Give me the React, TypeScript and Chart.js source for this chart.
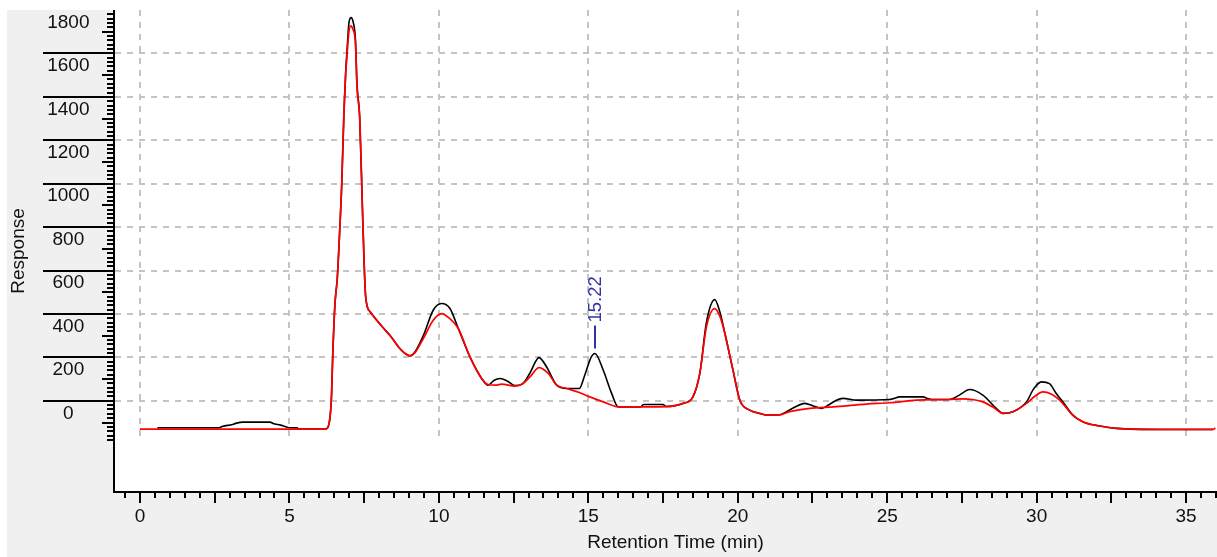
import React, { useEffect, useRef } from "react";
import { Chart, registerables } from "chart.js";

Chart.register(...registerables);

// Reference trace (red)
const REF_TIME = [
  0, 6.2, 6.3, 6.38, 6.41, 6.45, 6.52, 6.6, 6.65, 6.75, 6.82, 6.88, 6.93, 6.99, 7.05, 7.12, 7.21, 7.26, 7.35, 7.45,
  7.55, 7.7, 7.9, 8.15, 8.4, 8.65, 8.85, 9.03, 9.2, 9.48, 9.81, 10.09, 10.35, 10.65, 11.04, 11.43, 11.65, 11.9, 12.1, 12.54,
  12.8, 13.05, 13.35, 13.66, 13.94, 14.27, 14.7, 15.05, 15.5, 16.0, 17.39, 18.17, 18.5, 18.73, 18.95, 19.23, 19.4, 19.57, 19.84, 20.07,
  20.4, 20.74, 20.96, 21.35, 21.74, 22.41, 23.19, 24.3, 25.08, 25.98, 27.09, 27.54, 27.9, 28.2, 28.55, 28.87, 29.21, 29.66, 29.95, 30.21,
  30.5, 30.77, 31.21, 31.55, 32.11, 32.67, 34.22, 35.9, 35.98,
];
const REF_RESPONSE = [
  -130, -130, -118, -43, 31, 213, 440, 563, 693, 1000, 1313, 1500, 1600, 1700, 1727, 1712, 1643, 1444, 1306, 850,
  480, 410, 375, 334, 295, 248, 220, 207, 222, 287, 371, 402, 380, 333, 202, 103, 75, 72, 77, 68,
  78, 110, 153, 126, 72, 57, 38, 18, -5, -28, -28, -12, 18, 126, 340, 425, 390, 310, 141, 3,
  -43, -58, -66, -66, -50, -35, -28, -15, -9, 3, 6, 9, 5, -5, -30, -58, -50, -12, 22, 41,
  30, 3, -66, -97, -116, -127, -132, -132, -125,
];

// Sample trace (black)
const SAMPLE_TIME = [
  0.58, 2.65, 2.75, 3.1, 3.2, 3.45, 4.35, 4.45, 4.7, 4.85, 5.0, 5.26, 5.3, 6.2, 6.3, 6.38, 6.41, 6.45, 6.52, 6.6,
  6.65, 6.75, 6.82, 6.88, 6.93, 6.99, 7.06, 7.13, 7.21, 7.26, 7.35, 7.45, 7.55, 7.7, 7.9, 8.15, 8.4, 8.65, 8.85, 9.03,
  9.2, 9.48, 9.81, 10.09, 10.37, 10.65, 11.04, 11.43, 11.65, 11.85, 12.05, 12.3, 12.54, 12.8, 13.04, 13.35, 13.6, 13.94, 14.27, 14.7,
  14.88, 15.1, 15.22, 15.5, 15.78, 16.0, 16.75, 16.85, 17.5, 17.6, 18.17, 18.5, 18.73, 18.95, 19.23, 19.4, 19.57, 19.84, 20.07, 20.4,
  20.74, 20.96, 21.35, 21.52, 21.9, 22.24, 22.55, 22.8, 23.05, 23.3, 23.52, 23.97, 25.08, 25.2, 25.42, 26.2, 26.35, 26.53, 27.09, 27.4,
  27.76, 28.2, 28.65, 28.87, 29.21, 29.66, 29.9, 30.16, 30.43, 30.65, 30.88, 31.21, 31.55, 32.11, 32.67, 34.22, 35.9,
];
const SAMPLE_RESPONSE = [
  -124, -124, -118, -109, -104, -98, -98, -104, -112, -118, -124, -124, -130, -130, -118, -43, 31, 213, 440, 563,
  693, 1000, 1313, 1510, 1620, 1740, 1765, 1745, 1660, 1460, 1306, 850, 480, 410, 375, 334, 295, 248, 220, 207,
  225, 300, 417, 448, 425, 333, 202, 103, 72, 95, 103, 90, 70, 78, 126, 199, 157, 72, 57, 57,
  118, 202, 218, 141, 34, -28, -28, -17, -17, -26, -12, 18, 126, 360, 466, 410, 310, 141, 3, -43,
  -58, -66, -66, -58, -30, -12, -25, -35, -18, 3, 11, 3, 6, 10, 18, 18, 10, 6, 6, 25,
  52, 26, -35, -58, -50, -5, 55, 87, 79, 35, -5, -66, -97, -116, -127, -132, -132,
];

const X_TICKS = [0, 5, 10, 15, 20, 25, 30, 35];
const Y_TICKS = [0, 200, 400, 600, 800, 1000, 1200, 1400, 1600, 1800];
const X_MIN = -0.8365;
const X_MAX = 36.67;
const Y_MIN = -420;
const Y_MAX = 1800;
const Y_TICK_FLOOR = -180;

const PEAK_LABEL = "15.22";
const PEAK_TIME = 15.22;
const PEAK_RESPONSE = 218;

const FONT = "'Liberation Sans', Arial, sans-serif";
const TEXT_COLOR = "#111111";

const decorPlugin = {
  id: "decor",
  beforeDraw(chart: any) {
    const { ctx, chartArea: a } = chart;
    ctx.save();
    ctx.fillStyle = "#ffffff";
    ctx.fillRect(a.left, a.top, a.right - a.left, a.bottom - a.top);
    ctx.restore();
  },
  beforeDatasetsDraw(chart: any) {
    const { ctx, chartArea: a, scales } = chart;
    const x = scales.x;
    const y = scales.y;
    ctx.save();
    ctx.strokeStyle = "#c4c4c4";
    ctx.lineWidth = 2;
    ctx.setLineDash([6, 6]);
    const floor = y.getPixelForValue(Y_TICK_FLOOR);
    for (const t of X_TICKS) {
      const px = Math.round(x.getPixelForValue(t));
      ctx.beginPath();
      ctx.moveTo(px, a.top);
      ctx.lineTo(px, floor);
      ctx.stroke();
    }
    for (const v of Y_TICKS) {
      if (v >= Y_MAX) continue;
      const py = Math.round(y.getPixelForValue(v));
      ctx.beginPath();
      ctx.moveTo(a.left, py);
      ctx.lineTo(a.right, py);
      ctx.stroke();
    }
    ctx.restore();
  },
  afterDatasetsDraw(chart: any) {
    const { ctx, chartArea: a, scales } = chart;
    const x = scales.x;
    const y = scales.y;
    ctx.save();
    ctx.setLineDash([]);
    ctx.strokeStyle = "#000000";

    // axis lines
    ctx.lineWidth = 2;
    ctx.beginPath();
    ctx.moveTo(a.left - 1, a.top);
    ctx.lineTo(a.left - 1, a.bottom + 1);
    ctx.moveTo(a.left - 2, a.bottom);
    ctx.lineTo(a.right, a.bottom);
    ctx.stroke();

    // y ticks
    ctx.lineWidth = 2;
    for (let v = Y_TICK_FLOOR; v < Y_MAX; v += 20) {
      const py = Math.round(y.getPixelForValue(v));
      let len = 8;
      if (v % 200 === 0) len = 72;
      else if (v % 100 === 0) len = 13;
      ctx.beginPath();
      ctx.moveTo(a.left - len, py);
      ctx.lineTo(a.left - 1, py);
      ctx.stroke();
    }

    // x ticks
    ctx.lineWidth = 2;
    for (let i = Math.ceil(X_MIN * 2); i <= Math.floor(X_MAX * 2); i++) {
      const t = i / 2;
      const px = Math.round(x.getPixelForValue(t));
      const long = i % 5 === 0;
      ctx.beginPath();
      ctx.moveTo(px, a.bottom);
      ctx.lineTo(px, a.bottom + (long ? 11 : 6));
      ctx.stroke();
    }

    // peak annotation
    const ppx = Math.round(x.getPixelForValue(PEAK_TIME));
    const ppy = y.getPixelForValue(PEAK_RESPONSE);
    ctx.strokeStyle = "#3232a8";
    ctx.fillStyle = "#3232a8";
    ctx.lineWidth = 2;
    ctx.beginPath();
    ctx.moveTo(ppx, ppy - 5);
    ctx.lineTo(ppx, ppy - 28);
    ctx.stroke();
    ctx.translate(ppx + 0.5, ppy - 31);
    ctx.rotate(-Math.PI / 2);
    ctx.font = `18.5px ${FONT}`;
    ctx.textAlign = "left";
    ctx.textBaseline = "middle";
    ctx.fillText(PEAK_LABEL, 0, 0);
    ctx.restore();
  },
};

export default function App() {
  const canvasRef = useRef<HTMLCanvasElement | null>(null);

  useEffect(() => {
    if (!canvasRef.current) return;
    const refData = REF_TIME.map((t, i) => ({ x: t, y: REF_RESPONSE[i] }));
    const sampleData = SAMPLE_TIME.map((t, i) => ({ x: t, y: SAMPLE_RESPONSE[i] }));
    const chart = new Chart(canvasRef.current, {
      type: "line",
      data: {
        datasets: [
          {
            label: "Reference",
            data: refData,
            borderColor: "#ff0000",
            borderWidth: 1.7,
            pointRadius: 0,
            cubicInterpolationMode: "monotone",
            fill: false,
          },
          {
            label: "Sample",
            data: sampleData,
            borderColor: "#000000",
            borderWidth: 1.6,
            pointRadius: 0,
            cubicInterpolationMode: "monotone",
            fill: false,
          },
        ],
      },
      options: {
        animation: false,
        responsive: false,
        events: [],
        layout: { padding: 0 },
        plugins: {
          legend: { display: false },
          tooltip: { enabled: false },
        },
        scales: {
          x: {
            type: "linear",
            position: "bottom",
            min: X_MIN,
            max: X_MAX,
            afterBuildTicks: (scale: any) => {
              scale.ticks = X_TICKS.map((v) => ({ value: v }));
            },
            afterFit: (scale: any) => {
              scale.height = 65;
              scale.paddingLeft = 0;
              scale.paddingRight = 0;
            },
            grid: { display: false, drawTicks: false },
            border: { display: false },
            ticks: {
              autoSkip: false,
              maxRotation: 0,
              padding: 13,
              color: TEXT_COLOR,
              font: { family: FONT, size: 19 },
              callback: (v: any) => String(v),
            },
            title: {
              display: true,
              text: "Retention Time (min)",
              color: TEXT_COLOR,
              font: { family: FONT, size: 19 },
              padding: { top: 0, bottom: 2.6 },
            },
          },
          y: {
            type: "linear",
            position: "left",
            min: Y_MIN,
            max: Y_MAX,
            afterBuildTicks: (scale: any) => {
              scale.ticks = Y_TICKS.map((v) => ({ value: v }));
            },
            afterFit: (scale: any) => {
              scale.width = 108;
              scale.paddingTop = 0;
              scale.paddingBottom = 0;
            },
            grid: { display: false, drawTicks: false },
            border: { display: false },
            ticks: {
              autoSkip: false,
              crossAlign: "center",
              padding: 25.5,
              labelOffset: 12.5,
              color: TEXT_COLOR,
              font: { family: FONT, size: 19 },
              callback: (v: any) => String(v),
            },
            title: {
              display: true,
              text: "Response",
              color: TEXT_COLOR,
              font: { family: FONT, size: 19 },
              padding: { top: 0.5, bottom: 0 },
            },
          },
        },
      },
      plugins: [decorPlugin],
    } as any);
    return () => chart.destroy();
  }, []);

  return (
    <div
      style={{
        position: "fixed",
        left: 0,
        top: 0,
        width: 1217,
        height: 557,
        overflow: "hidden",
        background: "#ffffff",
      }}
    >
      <div
        style={{
          position: "absolute",
          left: 7,
          top: 10,
          width: 1229,
          height: 547,
          background: "#f0f0f0",
        }}
      >
        <canvas ref={canvasRef} width={1229} height={547} style={{ display: "block" }} />
      </div>
    </div>
  );
}
